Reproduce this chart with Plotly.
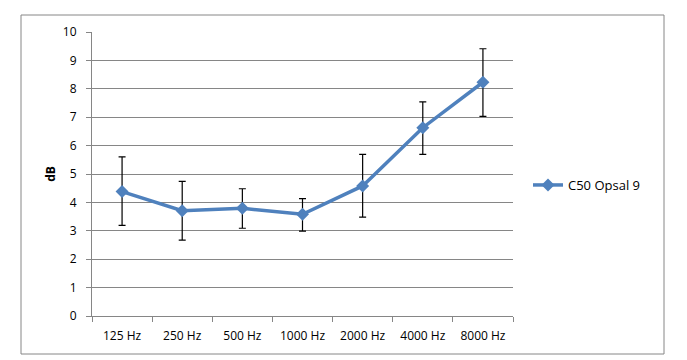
import plotly.graph_objects as go

categories = ["125 Hz", "250 Hz", "500 Hz", "1000 Hz", "2000 Hz", "4000 Hz", "8000 Hz"]
values = [4.38, 3.71, 3.79, 3.58, 4.58, 6.63, 8.23]
err_upper = [5.60, 4.74, 4.48, 4.13, 5.69, 7.54, 9.41]
err_lower = [3.19, 2.67, 3.09, 2.99, 3.48, 5.69, 7.03]
series_name = "C50 Opsal 9"
y_ticks = list(range(0, 11))

plus = [u - v for u, v in zip(err_upper, values)]
minus = [v - l for v, l in zip(values, err_lower)]

BLUE = "#4F81BD"
GRID = "#868686"
FONT = "Open Sans"

# page has an 8px body margin; figure coords = target - 8
W, H = 679, 352
L, R, T, B = 84, 505, 24, 308
pw, ph = R - L, B - T

fig = go.Figure()
fig.add_trace(go.Scatter(
    x=categories, y=values, name=series_name, mode="lines+markers",
    line=dict(color=BLUE, width=3.5),
    marker=dict(symbol="diamond", size=10, color=BLUE),
    error_y=dict(type="data", symmetric=False, array=plus, arrayminus=minus,
                 color="black", thickness=1.2, width=3.5),
))

fig.update_layout(
    width=W, height=H,
    margin=dict(l=L, r=W - R, t=T, b=H - B),
    paper_bgcolor="white", plot_bgcolor="white",
    font=dict(family=FONT, size=12, color="black"),
    showlegend=True,
    legend=dict(x=(520 - 84) / pw, y=(308 - 177) / ph, xanchor="left", yanchor="middle",
                font=dict(family=FONT, size=13, color="black"),
                bgcolor="rgba(0,0,0,0)"),
    xaxis=dict(type="category", showgrid=False, showline=True, linecolor=GRID, linewidth=1,
               ticks="outside", tickson="boundaries", ticklen=5, tickcolor=GRID,
               ticklabelstandoff=9,
               tickfont=dict(family=FONT, size=12), range=[-0.5, 6.5]),
    yaxis=dict(range=[0, 10], tickvals=y_ticks, showgrid=True, gridcolor=GRID, gridwidth=1,
               showline=True, linecolor=GRID, linewidth=1, ticks="outside", ticklen=5,
               tickcolor=GRID, tickfont=dict(family=FONT, size=12), ticklabelstandoff=7,
               title=dict(text="<b>dB</b>", font=dict(family=FONT, size=12), standoff=4),
               zeroline=False),
    shapes=[dict(type="rect", xref="paper", yref="paper",
                 x0=(13 - L) / pw, x1=(656 - L) / pw,
                 y0=(B - 346) / ph, y1=(B - 7) / ph,
                 line=dict(color=GRID, width=1), fillcolor="rgba(0,0,0,0)", layer="below")],
)

fig.write_html("out.html")
